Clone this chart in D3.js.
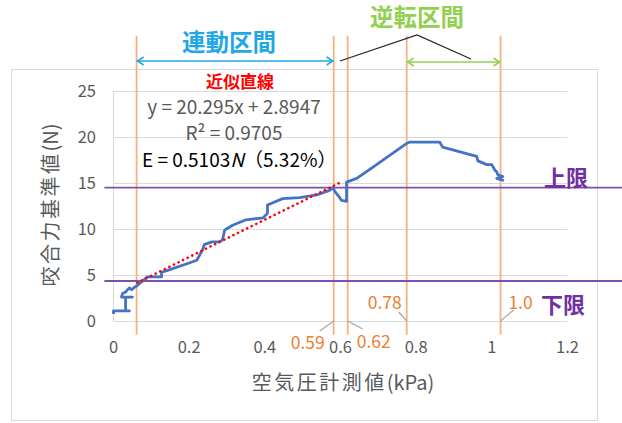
<!DOCTYPE html>
<html><head><meta charset="utf-8">
<script src="https://cdn.jsdelivr.net/npm/d3@7"></script>
<style>
html,body{margin:0;padding:0;background:#fff;}
svg text{font-family:"Noto Sans CJK JP","Noto Sans",sans-serif;}
</style></head>
<body><svg id="c" width="622" height="423"></svg>
<script>
// ---- data ----
const pressureX = [0,0,0.042,0.032,0.032,0.05,0.021,0.024,0.032,0.037,0.042,0.048,0.053,0.061,0.09,0.127,0.127,0.143,0.2,0.22,0.235,0.24,0.26,0.28,0.288,0.294,0.315,0.35,0.395,0.407,0.407,0.418,0.447,0.492,0.537,0.571,0.58,0.585,0.598,0.603,0.616,0.616,0.643,0.685,0.775,0.783,0.862,0.87,0.96,0.963,0.987,1.0,1.008,1.013,1.016,1.029,1.013,1.029,1.021];
const forceY    = [0.75,1.1,1.1,1.1,2.6,2.6,2.6,3.0,3.15,3.4,3.6,3.4,3.6,3.8,4.8,4.8,5.3,5.5,6.3,6.6,7.7,8.3,8.6,8.6,8.8,9.9,10.4,11.0,11.2,11.7,12.6,12.8,13.3,13.4,13.7,14.2,14.5,14.1,13.4,13.1,13.0,15.1,15.5,16.7,19.3,19.45,19.45,18.9,17.9,17.4,17.0,17.0,16.4,16.2,15.9,15.7,15.5,15.3,15.4];
const xTicks = [0,0.2,0.4,0.6,0.8,1,1.2];
const xTickLabels = ["0","0.2","0.4","0.6","0.8","1","1.2"];
const yTicks = [0,5,10,15,20,25];
const trendSlope = 20.295, trendIntercept = 2.8947;
const trendRange = [0.063, 0.598];
const upperLimit = 14.5, lowerLimit = 4.35;
const markerX = [0.061, 0.582, 0.619, 0.775, 1.023];
const markerLabels = ["", "0.59", "0.62", "0.78", "1.0"];
const eqLines = ["y = 20.295x + 2.8947", "R² = 0.9705"];

// ---- layout ----
const svg = d3.select("#c");
const x = d3.scaleLinear().domain([0,1.2]).range([113.5,567.5]);
const y = d3.scaleLinear().domain([0,25]).range([321,91]);
const grey = "#595959";

// outer border
svg.append("rect").attr("x",11.5).attr("y",69.5).attr("width",586).attr("height",351)
  .attr("fill","none").attr("stroke","#D9D9D9").attr("stroke-width",1);

// gridlines
svg.append("g").selectAll("line").data(yTicks).join("line")
  .attr("x1",x(0)).attr("x2",x(1.2)).attr("y1",d=>Math.round(y(d))+0.5).attr("y2",d=>Math.round(y(d))+0.5)
  .attr("stroke","#D9D9D9").attr("stroke-width",1);
// y axis line
svg.append("line").attr("x1",x(0)).attr("x2",x(0)).attr("y1",y(25)).attr("y2",y(0))
  .attr("stroke","#D9D9D9");

// tick labels
svg.append("g").selectAll("text").data(yTicks).join("text")
  .attr("x",96).attr("y",d=>y(d)).attr("dy","0.36em").attr("text-anchor","end")
  .attr("font-size",16.5).attr("fill",grey).text(d=>d);
svg.append("g").selectAll("text").data(xTicks).join("text")
  .attr("x",d=>x(d)).attr("y",347).attr("dy","0.36em").attr("text-anchor","middle")
  .attr("font-size",16.5).attr("fill",grey).text((d,i)=>xTickLabels[i]);

// axis titles
const xt = svg.append("text").attr("x",343).attr("y",383).attr("dy","0.36em").attr("text-anchor","middle")
  .attr("font-size",20).attr("fill",grey);
xt.append("tspan").attr("letter-spacing","2.5px").text("空気圧計測値");
xt.append("tspan").text("(kPa)");
const yt = svg.append("text").attr("transform","translate(51,205) rotate(-90)").attr("dy","0.36em")
  .attr("text-anchor","middle").attr("font-size",20).attr("fill",grey);
yt.append("tspan").attr("letter-spacing","2.5px").text("咬合力基準値");
yt.append("tspan").text("(N)");

// orange marker lines
svg.append("g").selectAll("line").data(markerX).join("line")
  .attr("x1",d=>x(d)).attr("x2",d=>x(d)).attr("y1",y(31)).attr("y2",y(-1.5))
  .attr("stroke","#F4B183").attr("stroke-width",1.8);

// purple limit lines
[upperLimit, lowerLimit].forEach(v=>{
  svg.append("line").attr("x1",x(-0.024)).attr("x2",622).attr("y1",y(v)).attr("y2",y(v))
    .attr("stroke","#7F4FB0").attr("stroke-width",1.8);
});
svg.append("text").attr("x",566).attr("y",y(upperLimit)-10).attr("dy","0.36em").attr("text-anchor","middle")
  .attr("font-size",22).attr("font-weight","bold").attr("fill","#7030A0").text("上限");
svg.append("text").attr("x",563).attr("y",305).attr("dy","0.36em").attr("text-anchor","middle")
  .attr("font-size",22).attr("font-weight","bold").attr("fill","#7030A0").text("下限");

// data line
const pts = pressureX.map((v,i)=>[v, forceY[i]]);
svg.append("path").datum(pts)
  .attr("d", d3.line().x(d=>x(d[0])).y(d=>y(d[1])))
  .attr("fill","none").attr("stroke","#4472C4").attr("stroke-width",2.8).attr("stroke-linejoin","round");

// trend line
svg.append("path").datum(trendRange.map(v=>[v, trendSlope*v+trendIntercept]))
  .attr("d", d3.line().x(d=>x(d[0])).y(d=>y(d[1])))
  .attr("fill","none").attr("stroke","#FF0000").attr("stroke-width",2.6)
  .attr("stroke-dasharray","0.1,5").attr("stroke-linecap","round");

// marker labels and leaders
const orange = "#ED7D31", leader = "#A6A6A6";
const labelSpec = [
  null,
  {dx:-14, dy:10, tx:-26, ty:22},
  {dx:15, dy:8, tx:26, ty:21},
  {dx:-8, dy:-9, tx:-22, ty:-18},
  {dx:13, dy:-11, tx:20, ty:-18}
];
markerX.forEach((m,i)=>{
  const s = labelSpec[i]; if(!s) return;
  const px = x(m), py = y(0);
  svg.append("line").attr("x1",px).attr("y1",py).attr("x2",px+s.dx).attr("y2",py+s.dy)
    .attr("stroke",leader).attr("stroke-width",1.2);
  svg.append("text").attr("x",px+s.tx).attr("y",py+s.ty).attr("dy","0.36em").attr("text-anchor","middle")
    .attr("font-size",17.5).attr("fill",orange).text(markerLabels[i]);
});

// trend annotation
svg.append("text").attr("x",240).attr("y",82).attr("dy","0.36em").attr("text-anchor","middle")
  .attr("font-size",17).attr("font-weight","bold").attr("fill","#FF0000").text("近似直線");
svg.append("text").attr("x",234).attr("y",107).attr("dy","0.36em").attr("text-anchor","middle")
  .attr("font-size",19).attr("fill",grey).text(eqLines[0]);
svg.append("text").attr("x",234).attr("y",133).attr("dy","0.36em").attr("text-anchor","middle")
  .attr("font-size",19).attr("fill",grey).text(eqLines[1]);
const et = svg.append("text").attr("x",142).attr("y",160).attr("dy","0.36em")
  .attr("font-size",19).attr("fill","#000");
et.append("tspan").text("E = 0.5103");
et.append("tspan").attr("font-style","italic").text("N");
et.append("tspan").text("（5.32%）");

// interval arrows
function arrow(x1,x2,yy,color){
  const g = svg.append("g").attr("stroke",color).attr("stroke-width",1.6).attr("fill","none");
  g.append("line").attr("x1",x1).attr("x2",x2).attr("y1",yy).attr("y2",yy);
  g.append("path").attr("d",`M${x1+7},${yy-4}L${x1+1},${yy}L${x1+7},${yy+4}`);
  g.append("path").attr("d",`M${x2-7},${yy-4}L${x2-1},${yy}L${x2-7},${yy+4}`);
}
arrow(x(markerX[0]), x(markerX[1]), 61, "#1FA8E6");
arrow(x(markerX[3]), x(markerX[4]), 62, "#92D050");

svg.append("text").attr("x",229).attr("y",43).attr("dy","0.36em").attr("text-anchor","middle")
  .attr("font-size",23.5).attr("font-weight","bold").attr("fill","#1FA8E6").text("連動区間");
svg.append("text").attr("x",417).attr("y",18).attr("dy","0.36em").attr("text-anchor","middle")
  .attr("font-size",23.5).attr("font-weight","bold").attr("fill","#92D050").text("逆転区間");

// callout
svg.append("path").attr("d",`M340,61L417,35L471,59`).attr("fill","none")
  .attr("stroke","#262626").attr("stroke-width",1.3);
</script></body></html>
